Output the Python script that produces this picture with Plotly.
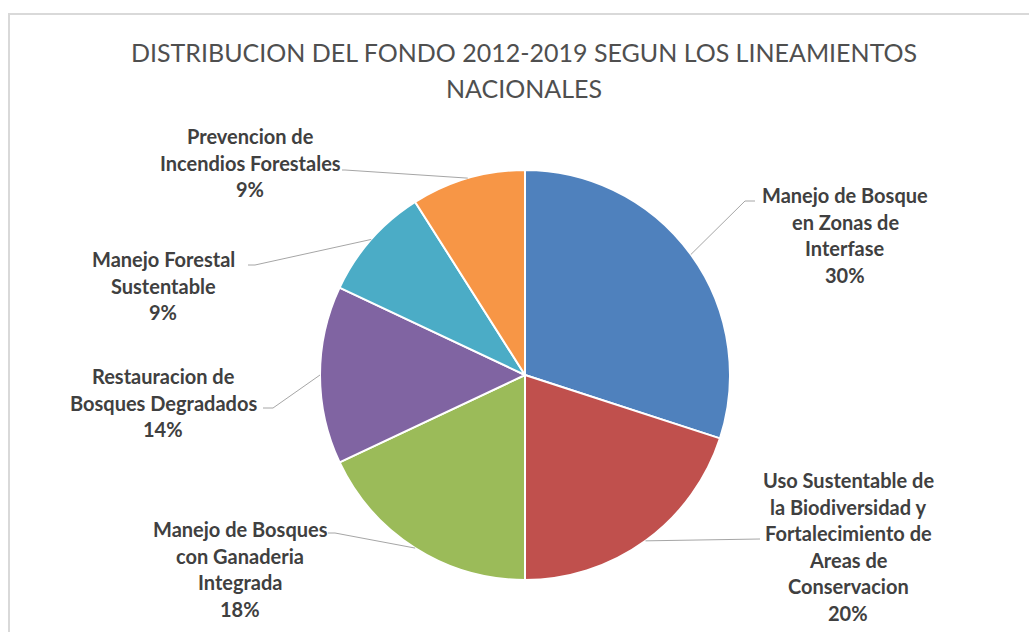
import math
import plotly.graph_objects as go

# ---- data ----
categories = [
    "Manejo de Bosque en Zonas de Interfase",
    "Uso Sustentable de la Biodiversidad y Fortalecimiento de Areas de Conservacion",
    "Manejo de Bosques con Ganaderia Integrada",
    "Restauracion de Bosques Degradados",
    "Manejo Forestal Sustentable",
    "Prevencion de Incendios Forestales",
]
values = [30, 20, 18, 14, 9, 9]
label_lines = [
    ["Manejo de Bosque", "en Zonas de", "Interfase"],
    ["Uso Sustentable de", "la Biodiversidad y", "Fortalecimiento de", "Areas de", "Conservacion"],
    ["Manejo de Bosques", "con Ganaderia", "Integrada"],
    ["Restauracion de", "Bosques Degradados"],
    ["Manejo Forestal", "Sustentable"],
    ["Prevencion de", "Incendios Forestales"],
]
title_lines = ["DISTRIBUCION DEL FONDO 2012-2019 SEGUN LOS LINEAMIENTOS", "NACIONALES"]

# ---- style / layout ----
W, H = 1029, 632
colors = ["#4F81BD", "#C0504D", "#9BBB59", "#8064A2", "#4BACC6", "#F79646"]
CX, CY, R = 525, 375, 205
# label center x, first line y (px)
label_pos = [(845, 195), (848, 480), (240, 529), (163, 376), (163, 259), (250, 136)]
# leader elbow and end points (px)
leader_pts = [
    [(745, 201), (755, 201)],
    [(760, 539)],
    [(335, 533), (328, 533)],
    [(273, 408), (263, 408)],
    [(255, 265), (248, 265)],
    [(345, 170), (342, 170)],
]
LINE_H = 26.6
FONT = "Lato, 'Open Sans', sans-serif"


def px(x):
    return x / W


def py(y):
    return 1 - y / H


fig = go.Figure(go.Pie(
    labels=categories,
    values=values,
    sort=False,
    direction="clockwise",
    rotation=0,
    marker=dict(colors=colors, line=dict(color="white", width=2)),
    textinfo="none",
    hoverinfo="label+percent",
    domain=dict(x=[px(CX - R), px(CX + R)], y=[py(CY + R), py(CY - R)]),
    showlegend=False,
))

annotations = []
shapes = []

# title
for i, t in enumerate(title_lines):
    annotations.append(dict(
        text=t, x=px(524), y=py(52 + i * 36), xref="paper", yref="paper",
        showarrow=False, xanchor="center", yanchor="middle",
        font=dict(family=FONT, size=25, color="#4F4F4F"),
    ))

total = sum(values)
cum = 0
for i, v in enumerate(values):
    mid = (cum + v / 2) / total * 2 * math.pi
    cum += v
    ex = CX + R * math.sin(mid)
    ey = CY - R * math.cos(mid)
    pts = [(ex, ey)] + leader_pts[i]
    for (x0, y0), (x1, y1) in zip(pts[:-1], pts[1:]):
        shapes.append(dict(type="line", xref="paper", yref="paper",
                           x0=px(x0), y0=py(y0), x1=px(x1), y1=py(y1),
                           line=dict(color="#A6A6A6", width=1)))
    lx, ly = label_pos[i]
    pct = f"{round(v / total * 100)}%"
    for j, t in enumerate(label_lines[i] + [pct]):
        annotations.append(dict(
            text=f"<b>{t}</b>", x=px(lx), y=py(ly + j * LINE_H),
            xref="paper", yref="paper", showarrow=False,
            xanchor="center", yanchor="middle",
            font=dict(family=FONT, size=20, color="#404040"),
        ))

# chart area border
shapes.append(dict(type="rect", xref="paper", yref="paper",
                   x0=px(9), y0=py(H + 20), x1=px(W + 20), y1=py(14),
                   line=dict(color="#D9D9D9", width=2), fillcolor="rgba(0,0,0,0)",
                   layer="below"))

fig.update_layout(
    width=W, height=H,
    margin=dict(l=0, r=0, t=0, b=0),
    paper_bgcolor="white",
    plot_bgcolor="white",
    annotations=annotations,
    shapes=shapes,
)

fig.write_html("out.html", config={"displayModeBar": False},
               post_script="document.body.style.margin='0';")
